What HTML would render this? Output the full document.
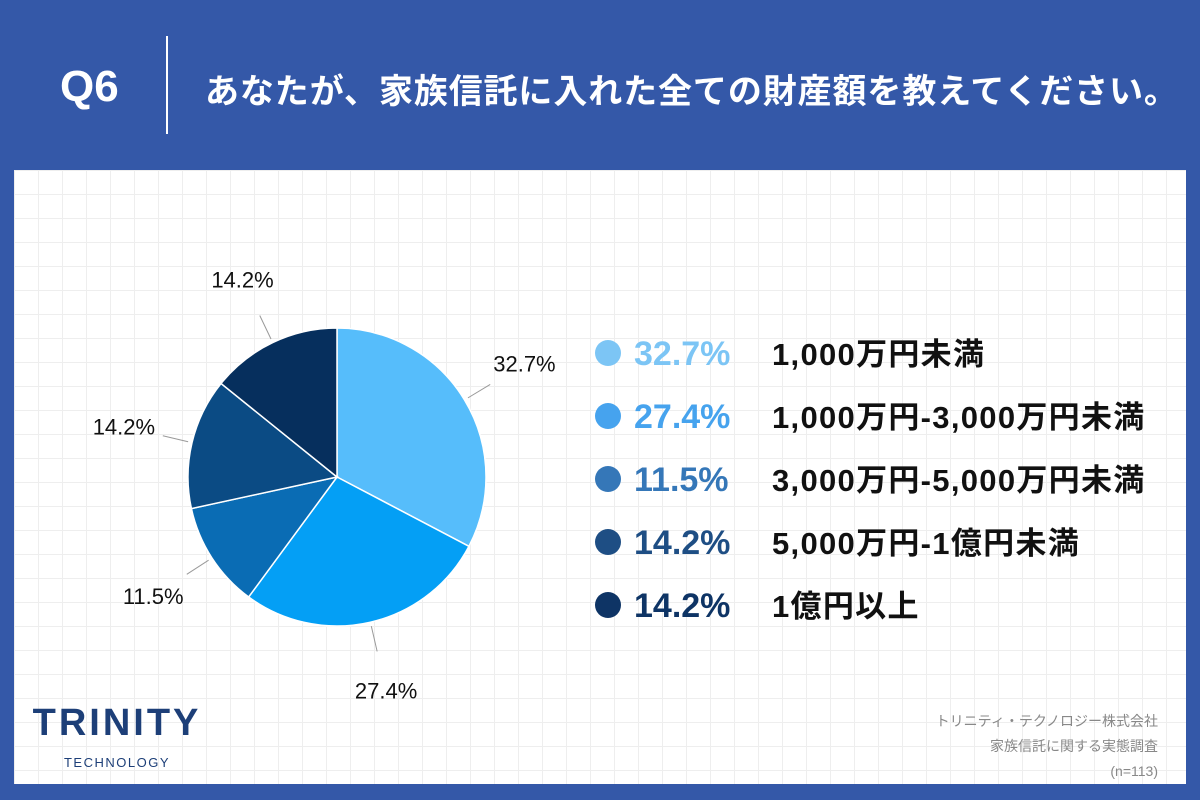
<!DOCTYPE html>
<html><head><meta charset="utf-8">
<style>
body{margin:0;width:1200px;height:800px;background:#3458a8;position:relative;overflow:hidden;font-family:"Liberation Sans","Noto Sans CJK JP",sans-serif}
#hdr{position:absolute;left:0;top:0;width:1200px;height:170px}
#q{position:absolute;left:60px;top:62px;color:#fff;font-size:44px;font-weight:bold}
#sep{position:absolute;left:166px;top:36px;width:2px;height:98px;background:#fff}
#title{position:absolute;left:205px;top:64px;color:#fff;font-size:34px;font-weight:bold;letter-spacing:0.9px}
#panel{position:absolute;left:14px;top:170px;width:1172px;height:614px;background-color:#fff;
background-image:linear-gradient(#eeeeee 1px,transparent 1px),linear-gradient(90deg,#eeeeee 1px,transparent 1px);background-size:24px 24px}
svg{position:absolute;left:0;top:0}
</style></head><body>
<div id="hdr">
<div id="q">Q6</div>
<div id="sep"></div>
<div id="title">あなたが、家族信託に入れた全ての財産額を教えてください。</div>
</div>
<div id="panel"></div>
<svg id="chart" width="1200" height="800"></svg>
<script>
const categories=["1,000万円未満","1,000万円-3,000万円未満","3,000万円-5,000万円未満","5,000万円-1億円未満","1億円以上"];
const values=[32.7,27.4,11.5,14.2,14.2];
const labels=["32.7%","27.4%","11.5%","14.2%","14.2%"];
const sliceColors=["#56bdfb","#049ff5","#0a6cb4","#0b4b84","#062f5d"];
const dotColors=["#7cc5f5","#46a3ee","#3577b8","#1e4e84","#0e3465"];
const ns="http://www.w3.org/2000/svg";
const svg=document.getElementById('chart');
const cx=337,cy=477,r=149;
function mk(t,a){const e=document.createElementNS(ns,t);for(const k in a)e.setAttribute(k,a[k]);svg.appendChild(e);return e;}
const total=values.reduce((a,b)=>a+b,0);
let acc=0;
function pt(ang,rad){return [cx+rad*Math.sin(ang),cy-rad*Math.cos(ang)];}
values.forEach((v,i)=>{
 const a0=acc/total*2*Math.PI; acc+=v; const a1=acc/total*2*Math.PI;
 const p0=pt(a0,r),p1=pt(a1,r);
 const p=mk('path',{d:`M${cx},${cy}L${p0[0]},${p0[1]}A${r},${r} 0 ${a1-a0>Math.PI?1:0} 1 ${p1[0]},${p1[1]}Z`,fill:sliceColors[i],stroke:'#fff','stroke-width':1.5});
 
 
 const am=(a0+a1)/2;
 const l0=pt(am,r+4),l1=pt(am,r+30),lt=pt(am,r+70);
 const ln=mk('line',{x1:l0[0],y1:l0[1],x2:l1[0],y2:l1[1],stroke:'#999','stroke-width':1});
 
 
 const t=mk('text',{x:lt[0],y:lt[1]+8,'text-anchor':'middle','font-size':22,fill:'#111'});
 t.textContent=labels[i];
 
 
 const y=353+i*63;
 const d=mk('circle',{cx:608,cy:y,r:13,fill:dotColors[i]});
 
 
 const lp=mk('text',{x:634,y:y+12,'font-size':34,'font-weight':'bold',fill:dotColors[i]});
 lp.textContent=labels[i];
 
 
 const lc=mk('text',{x:772,y:y+12,'font-size':31,'font-weight':'bold',fill:'#111','letter-spacing':1.3});
 lc.textContent=categories[i];
 
 
});
</script>
<div style="position:absolute;left:17px;top:702px;width:200px;text-align:center;color:#1d3f78">
<div style="font-size:38px;font-weight:bold;letter-spacing:3px">TRINITY</div>
<div style="font-size:13px;letter-spacing:1.5px;margin-top:10px">TECHNOLOGY</div></div>
<div style="position:absolute;right:42px;top:709px;text-align:right;color:#888;font-size:14px;line-height:25px">トリニティ・テクノロジー株式会社<br>家族信託に関する実態調査<br>(n=113)</div>
</body></html>
